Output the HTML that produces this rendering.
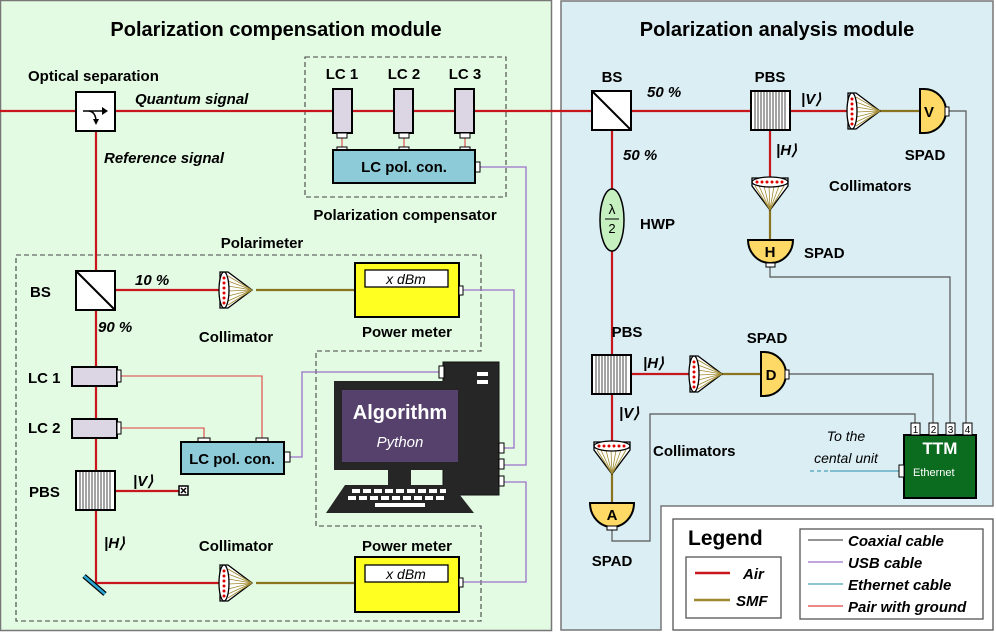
<!DOCTYPE html>
<html><head><meta charset="utf-8"><style>
body{margin:0;background:#fff}
svg{display:block;font-family:"Liberation Sans",sans-serif}
.b{font-weight:bold;font-size:15px}
.i{font-style:italic;font-weight:bold;font-size:15px}
</style></head><body>
<svg width="996" height="632" viewBox="0 0 996 632" xmlns="http://www.w3.org/2000/svg">
<defs>
<g id="colH">
 <path d="M0,-18 L8,-18 L32,0 L8,18 L0,18 Z" fill="#fff" stroke="#000" stroke-width="1.3"/>
 <g stroke="#a08a30" stroke-width="0.8">
  <line x1="8" y1="-14" x2="32" y2="0"/><line x1="8" y1="-9" x2="32" y2="0"/><line x1="8" y1="-4" x2="32" y2="0"/><line x1="8" y1="1" x2="32" y2="0"/><line x1="8" y1="6" x2="32" y2="0"/><line x1="8" y1="11" x2="32" y2="0"/><line x1="8" y1="15" x2="32" y2="0"/>
 </g>
 <ellipse cx="4" cy="0" rx="5" ry="18" fill="#fff" stroke="#000" stroke-width="1.3"/>
 <g fill="#d00"><circle cx="4" cy="-12" r="1.5"/><circle cx="4" cy="-7" r="1.5"/><circle cx="4" cy="-2" r="1.5"/><circle cx="4" cy="3" r="1.5"/><circle cx="4" cy="8" r="1.5"/><circle cx="4" cy="13" r="1.5"/></g>
</g>
<g id="pbs">
 <rect x="0" y="0" width="39" height="39" fill="#fff" stroke="#000" stroke-width="2"/>
 <g stroke="#333" stroke-width="0.9">
  <line x1="4" y1="1" x2="4" y2="38"/><line x1="7" y1="1" x2="7" y2="38"/><line x1="10" y1="1" x2="10" y2="38"/><line x1="13" y1="1" x2="13" y2="38"/><line x1="16" y1="1" x2="16" y2="38"/><line x1="19" y1="1" x2="19" y2="38"/><line x1="22" y1="1" x2="22" y2="38"/><line x1="25" y1="1" x2="25" y2="38"/><line x1="28" y1="1" x2="28" y2="38"/><line x1="31" y1="1" x2="31" y2="38"/><line x1="34" y1="1" x2="34" y2="38"/>
 </g>
</g>
<g id="bs">
 <rect x="0" y="0" width="39" height="39" fill="#fff" stroke="#000" stroke-width="2"/>
 <line x1="0" y1="0" x2="39" y2="39" stroke="#000" stroke-width="2"/>
</g>
</defs>

<!-- panels -->
<rect x="0.5" y="0.5" width="551" height="630" fill="#e3fae3" stroke="#777" stroke-width="1.5"/>
<path d="M561,1 H993 V506 H661 V630 H561 Z" fill="#dbeef4" stroke="#777" stroke-width="1.5"/>
<text x="276" y="36" text-anchor="middle" font-weight="bold" font-size="20">Polarization compensation module</text>
<text x="777" y="36" text-anchor="middle" font-weight="bold" font-size="20">Polarization analysis module</text>

<!-- dashed boxes -->
<g fill="none" stroke="#444" stroke-width="1.1" stroke-dasharray="5,3">
 <rect x="305" y="57" width="201" height="140"/>
 <path d="M16,255 H481 V351 H316 V526 H481 V621 H16 Z"/>
</g>

<!-- red air lines -->
<g stroke="#c8161d" stroke-width="2.2" fill="none">
 <line x1="0" y1="111" x2="751" y2="111"/>
 <line x1="96" y1="131" x2="96" y2="584"/>
 <line x1="96" y1="583" x2="222" y2="583"/>
 <line x1="115" y1="290" x2="222" y2="290"/>
 <line x1="115" y1="491" x2="180" y2="491"/>
 <line x1="790" y1="111" x2="848" y2="111"/>
 <line x1="612" y1="130" x2="612" y2="355"/>
 <line x1="770" y1="130" x2="770" y2="178"/>
 <line x1="632" y1="374" x2="690" y2="374"/>
 <line x1="612" y1="394" x2="612" y2="442"/>
</g>
<!-- SMF -->
<g stroke="#8a7420" stroke-width="2.2">
 <line x1="256" y1="290" x2="355" y2="290"/>
 <line x1="256" y1="583" x2="355" y2="583"/>
 <line x1="880" y1="111" x2="920" y2="111"/>
 <line x1="770" y1="210" x2="770" y2="240"/>
 <line x1="722" y1="374" x2="761" y2="374"/>
 <line x1="612" y1="474" x2="612" y2="503"/>
</g>

<!-- purple USB -->
<g stroke="#9a72c8" stroke-width="1.3" fill="none">
 <path d="M480,167 H526 V465 H504"/>
 <path d="M463,290 H514 V448 H504"/>
 <path d="M463,582 H526 V482 H504"/>
 <path d="M290,457 H302 V372 H440"/>
</g>
<!-- pair with ground red thin -->
<g stroke="#e04040" stroke-width="1.1" fill="none">
 <path d="M121,376 H262 V438"/>
 <path d="M121,428 H204 V438"/>
 <line x1="342" y1="138" x2="342" y2="147"/>
 <line x1="404" y1="138" x2="404" y2="147"/>
 <line x1="465" y1="138" x2="465" y2="147"/>
</g>
<!-- coax -->
<g stroke="#555" stroke-width="1.2" fill="none">
 <path d="M770,267 V277 H950 V424"/>
 <path d="M949,111 H966 V424"/>
 <path d="M789,374 H933 V424"/>
 <path d="M612,530 V541 H650 V414 H915 V424"/>
</g>
<line x1="830" y1="471" x2="899" y2="471" stroke="#4aa0b8" stroke-width="1.2"/>
<line x1="810" y1="471" x2="830" y2="471" stroke="#4aa0b8" stroke-width="1.2" stroke-dasharray="4,3"/>

<!-- optical separation -->
<rect x="76" y="92" width="39" height="39" fill="#fff" stroke="#000" stroke-width="2"/>
<path d="M83,111 H106" stroke="#000" stroke-width="1.5"/>
<path d="M102,107 L108,111 L102,115 Z" fill="#000"/>
<path d="M89,111 Q96,112 96,122" stroke="#000" stroke-width="1.5" fill="none"/>
<path d="M93,119 L96,125 L99,119 Z" fill="#000"/>
<text x="28" y="81" class="b" font-size="14">Optical separation</text>
<text x="135" y="104" class="i" font-size="14">Quantum signal</text>
<text x="104" y="163" class="i" font-size="14">Reference signal</text>

<!-- compensator LCs -->
<g fill="#dcd6e4" stroke="#000" stroke-width="2">
 <rect x="333" y="89" width="19" height="44"/><rect x="394" y="89" width="19" height="44"/><rect x="455" y="89" width="19" height="44"/>
</g>
<g fill="#fff" stroke="#000" stroke-width="1">
 <rect x="337" y="133" width="10" height="5"/><rect x="399" y="133" width="10" height="5"/><rect x="460" y="133" width="10" height="5"/>
 <rect x="337" y="147" width="10" height="4"/><rect x="399" y="147" width="10" height="4"/><rect x="460" y="147" width="10" height="4"/>
 <rect x="475" y="162" width="5" height="10"/>
</g>
<rect x="333" y="150" width="142" height="33" fill="#8ecbd8" stroke="#000" stroke-width="2"/>
<text x="404" y="172" text-anchor="middle" class="b">LC pol. con.</text>
<g class="b" text-anchor="middle" font-size="14"><text x="342" y="79">LC 1</text><text x="404" y="79">LC 2</text><text x="465" y="79">LC 3</text></g>
<text x="405" y="220" text-anchor="middle" class="b">Polarization compensator</text>

<!-- polarimeter -->
<text x="262" y="248" text-anchor="middle" class="b" font-size="14">Polarimeter</text>
<use href="#bs" x="76" y="271"/>
<text x="30" y="297" class="b">BS</text>
<text x="135" y="285" class="i" font-size="14">10 %</text>
<text x="98" y="332" class="i" font-size="14">90 %</text>
<use href="#colH" x="220" y="290"/>
<text x="236" y="342" text-anchor="middle" class="b" font-size="14">Collimator</text>
<rect x="355" y="263" width="104" height="54" fill="#ffff22" stroke="#000" stroke-width="2"/>
<rect x="365" y="270" width="83" height="17" fill="#fff" stroke="#000" stroke-width="1.3"/>
<text x="406" y="284" text-anchor="middle" font-style="italic" font-size="14">x dBm</text>
<rect x="459" y="286" width="4" height="9" fill="#fff" stroke="#000"/>
<text x="407" y="337" text-anchor="middle" class="b">Power meter</text>

<g fill="#dcd6e4" stroke="#000" stroke-width="2">
 <rect x="72" y="367" width="45" height="19"/><rect x="72" y="419" width="45" height="19"/>
</g>
<g fill="#fff" stroke="#000" stroke-width="1">
 <rect x="117" y="370" width="4" height="12"/><rect x="117" y="422" width="4" height="12"/>
 <rect x="198" y="438" width="12" height="4"/><rect x="256" y="438" width="12" height="4"/>
 <rect x="284" y="452" width="6" height="10"/>
</g>
<text x="28" y="383" class="b" font-size="14">LC 1</text>
<text x="28" y="433" class="b" font-size="14">LC 2</text>
<rect x="181" y="442" width="103" height="32" fill="#8ecbd8" stroke="#000" stroke-width="2"/>
<text x="232" y="464" text-anchor="middle" class="b">LC pol. con.</text>
<use href="#pbs" x="76" y="471"/>
<text x="29" y="497" class="b">PBS</text>
<text x="133" y="486" class="i" font-size="14">|V⟩</text>
<rect x="179" y="486" width="9" height="9" fill="#fff" stroke="#000" stroke-width="1.5"/>
<path d="M181,488 L186,493 M186,488 L181,493" stroke="#000" stroke-width="1.5"/>
<text x="104" y="548" class="i" font-size="14">|H⟩</text>
<line x1="84" y1="576" x2="105" y2="594" stroke="#000" stroke-width="5"/>
<line x1="84" y1="576" x2="105" y2="594" stroke="#2aa9d8" stroke-width="2.5"/>
<use href="#colH" x="220" y="583"/>
<text x="236" y="551" text-anchor="middle" class="b" font-size="14">Collimator</text>
<rect x="355" y="557" width="104" height="55" fill="#ffff22" stroke="#000" stroke-width="2"/>
<rect x="365" y="565" width="83" height="17" fill="#fff" stroke="#000" stroke-width="1.3"/>
<text x="406" y="579" text-anchor="middle" font-style="italic" font-size="14">x dBm</text>
<rect x="459" y="578" width="4" height="9" fill="#fff" stroke="#000"/>
<text x="407" y="551" text-anchor="middle" class="b">Power meter</text>

<!-- computer -->
<rect x="443" y="362" width="56" height="133" fill="#262626" stroke="#111"/>
<rect x="439" y="366" width="5" height="12" fill="#fff" stroke="#000"/>
<rect x="477" y="372" width="11" height="4" fill="#fff"/><rect x="477" y="380" width="11" height="4" fill="#fff"/>
<g fill="#fff" stroke="#000"><rect x="499" y="443" width="5" height="10"/><rect x="499" y="459" width="5" height="10"/><rect x="499" y="476" width="5" height="10"/></g>
<rect x="334" y="381" width="132" height="89" fill="#262626"/>
<rect x="342" y="390" width="116" height="72" fill="#55416c"/>
<text x="400" y="419" text-anchor="middle" fill="#fff" font-weight="bold" font-size="20">Algorithm</text>
<text x="400" y="447" text-anchor="middle" fill="#fff" font-style="italic" font-size="15">Python</text>
<rect x="388" y="470" width="23" height="15" fill="#262626"/>
<path d="M345,485 H452 L474,513 H326 Z" fill="#262626"/>
<g fill="#fff">
 <rect x="352" y="489" width="8" height="4"/><rect x="363" y="489" width="8" height="4"/><rect x="374" y="489" width="8" height="4"/><rect x="385" y="489" width="8" height="4"/><rect x="396" y="489" width="8" height="4"/><rect x="407" y="489" width="8" height="4"/><rect x="418" y="489" width="8" height="4"/><rect x="429" y="489" width="8" height="4"/><rect x="440" y="489" width="6" height="4"/>
 <rect x="348" y="496" width="8" height="4"/><rect x="359" y="496" width="8" height="4"/><rect x="370" y="496" width="8" height="4"/><rect x="381" y="496" width="8" height="4"/><rect x="392" y="496" width="8" height="4"/><rect x="403" y="496" width="8" height="4"/><rect x="414" y="496" width="8" height="4"/><rect x="425" y="496" width="8" height="4"/><rect x="436" y="496" width="8" height="4"/>
 <rect x="375" y="503" width="50" height="4"/>
</g>

<!-- analysis module -->
<use href="#bs" x="592" y="91"/>
<text x="612" y="82" text-anchor="middle" class="b" font-size="14">BS</text>
<text x="647" y="97" class="i" font-size="14">50 %</text>
<text x="623" y="160" class="i" font-size="14">50 %</text>
<use href="#pbs" x="751" y="91"/>
<text x="770" y="82" text-anchor="middle" class="b" font-size="14">PBS</text>
<text x="801" y="104" class="i" font-size="14">|V⟩</text>
<text x="776" y="155" class="i" font-size="14">|H⟩</text>
<use href="#colH" x="848" y="111"/>
<path d="M920,89 H924 A22 22 0 0 1 924,133 H920 Z" fill="#ffd966" stroke="#000" stroke-width="2"/>
<text x="929" y="117" text-anchor="middle" class="b" font-size="14">V</text>
<rect x="945" y="107" width="4" height="9" fill="#fff" stroke="#000"/>
<text x="925" y="160" text-anchor="middle" class="b">SPAD</text>
<use href="#colH" transform="translate(770,178) rotate(90)"/>
<text x="829" y="191" class="b" font-size="14">Collimators</text>
<path d="M748,240 H793 A22.5 23 0 0 1 748,240 Z" fill="#ffd966" stroke="#000" stroke-width="2"/>
<text x="770" y="257" text-anchor="middle" class="b" font-size="14">H</text>
<rect x="766" y="263" width="9" height="4" fill="#fff" stroke="#000"/>
<text x="804" y="258" class="b">SPAD</text>
<ellipse cx="612" cy="220" rx="12" ry="31" fill="#c6f0c0" stroke="#000" stroke-width="1.5"/>
<text x="612" y="214" text-anchor="middle" font-size="14">λ</text>
<line x1="605" y1="219" x2="619" y2="219" stroke="#000"/>
<text x="612" y="233" text-anchor="middle" font-size="13">2</text>
<text x="640" y="229" class="b">HWP</text>

<use href="#pbs" x="592" y="355"/>
<text x="627" y="337" text-anchor="middle" class="b" font-size="14">PBS</text>
<text x="643" y="368" class="i" font-size="14">|H⟩</text>
<text x="619" y="418" class="i" font-size="14">|V⟩</text>
<use href="#colH" x="690" y="374"/>
<path d="M761,352 H764 A22 22 0 0 1 764,396 H761 Z" fill="#ffd966" stroke="#000" stroke-width="2"/>
<text x="771" y="380" text-anchor="middle" class="b" font-size="14">D</text>
<rect x="785" y="370" width="4" height="9" fill="#fff" stroke="#000"/>
<text x="767" y="343" text-anchor="middle" class="b">SPAD</text>
<use href="#colH" transform="translate(612,442) rotate(90)"/>
<text x="653" y="456" class="b" font-size="14">Collimators</text>
<path d="M590,503 H634 A22 24 0 0 1 590,503 Z" fill="#ffd966" stroke="#000" stroke-width="2"/>
<text x="612" y="520" text-anchor="middle" class="b" font-size="14">A</text>
<rect x="607" y="526" width="10" height="4" fill="#fff" stroke="#000"/>
<text x="612" y="566" text-anchor="middle" class="b">SPAD</text>

<!-- TTM -->
<rect x="904" y="435" width="72" height="63" fill="#0b6b1e" stroke="#000" stroke-width="2"/>
<g fill="#fff" stroke="#000" stroke-width="1">
 <rect x="911" y="423" width="9" height="12"/><rect x="929" y="423" width="9" height="12"/><rect x="946" y="423" width="9" height="12"/><rect x="963" y="423" width="9" height="12"/>
 <rect x="899" y="465" width="5" height="12"/>
</g>
<g font-size="10" text-anchor="middle"><text x="915.5" y="433">1</text><text x="933.5" y="433">2</text><text x="950.5" y="433">3</text><text x="967.5" y="433">4</text></g>
<text x="940" y="454" text-anchor="middle" fill="#fff" font-weight="bold" font-size="17">TTM</text>
<text x="913" y="476" fill="#fff" font-size="11">Ethernet</text>
<text x="846" y="441" text-anchor="middle" font-style="italic" font-size="14">To the</text>
<text x="846" y="463" text-anchor="middle" font-style="italic" font-size="14">cental unit</text>

<!-- legend -->
<rect x="673" y="519" width="320" height="111" fill="#fff" stroke="#555" stroke-width="1.3"/>
<text x="688" y="545" font-weight="bold" font-size="21">Legend</text>
<rect x="686" y="557" width="95" height="61" fill="#fff" stroke="#555" stroke-width="1.3"/>
<line x1="695" y1="573" x2="730" y2="573" stroke="#c8161d" stroke-width="2.5"/>
<line x1="694" y1="600" x2="730" y2="600" stroke="#a08a30" stroke-width="2.5"/>
<text x="743" y="579" class="i">Air</text>
<text x="736" y="606" class="i">SMF</text>
<rect x="800" y="529" width="183" height="90" fill="#fff" stroke="#555" stroke-width="1.3"/>
<line x1="808" y1="540" x2="843" y2="540" stroke="#555" stroke-width="1.2"/>
<line x1="808" y1="562" x2="843" y2="562" stroke="#9a72c8" stroke-width="1.2"/>
<line x1="808" y1="584" x2="843" y2="584" stroke="#4aa0b8" stroke-width="1.2"/>
<line x1="808" y1="606" x2="843" y2="606" stroke="#e04040" stroke-width="1.2"/>
<g class="i"><text x="848" y="546">Coaxial cable</text><text x="848" y="568">USB cable</text><text x="848" y="590">Ethernet cable</text><text x="848" y="612">Pair with ground</text></g>
</svg>
</body></html>
